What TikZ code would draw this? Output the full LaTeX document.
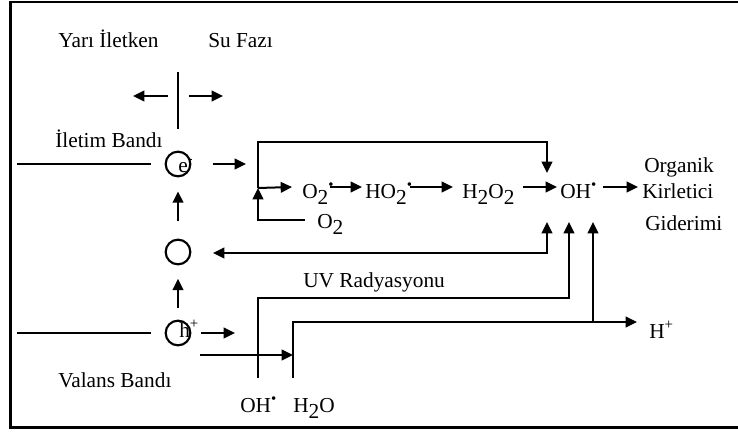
\documentclass[tikz,border=0pt]{standalone}
\usepackage{fontspec}
\setmainfont{Liberation Serif}
\usetikzlibrary{arrows.meta}
\newcommand{\lowsub}[1]{\raisebox{-0.32em}{#1}}
\newcommand{\radot}{\textsuperscript{\textbullet}}

\begin{document}
\begin{tikzpicture}[x=0.75pt, y=-0.75pt,
    txt/.style={font=\fontsize{16}{19}\selectfont, inner sep=0pt, anchor=base west},
    ln/.style={line width=1.5pt},
    arr/.style={ln, -{Triangle[length=8.5pt,width=8pt]}},
    dbl/.style={ln, {Triangle[length=8.5pt,width=8pt]}-{Triangle[length=8.5pt,width=8pt]}},
    band/.style={circle, draw, line width=1.6pt, minimum size=18.5pt, inner sep=0pt},
    frame/.style={line width=2pt}]

\useasboundingbox (0,0) rectangle (738,432);

%% Frame (open on the right)
\draw[frame] (738,2) -- (10.5,2) -- (10.5,427.5) -- (738,427.5);

%% Headings
\node[txt] (yari)   at (58,47)   {Yarı İletken};
\node[txt] (su)     at (208,47)  {Su Fazı};
\node[txt] (iletim) at (55,147)  {İletim Bandı};
\node[txt] (valans) at (58,387)  {Valans Bandı};
\node[txt] (uv)     at (303,287) {UV Radyasyonu};

%% Interface divider
\coordinate (divtop) at (178,72);
\coordinate (divbot) at (178,129);
\draw[ln] (divtop) -- (divbot);
\coordinate (lfts) at (168,96);
\coordinate (lfte) at (133,96);
\coordinate (rgts) at (189,96);
\coordinate (rgte) at (223,96);
\draw[arr] (lfts) -- (lfte);
\draw[arr] (rgts) -- (rgte);

%% Band carriers
\node[band] (elec) at (178,164) {};
\node[band] (hole) at (178,252) {};
\node[band] (hplus) at (178,333) {};
\node[txt] (elbl) at (178,172) {e\textsuperscript{-}};
\node[txt] (hlbl) at (179,337) {h\textsuperscript{+}};

\coordinate (cband) at (17,164);
\coordinate (vband) at (17,333);
\draw[ln, shorten >=10pt] (cband) -- (elec);
\draw[ln, shorten >=10pt] (vband) -- (hplus);

\draw[arr, shorten <=13pt, shorten >=10.5pt] (hole) -- (elec);
\draw[arr, shorten <=9pt, shorten >=10pt] (hplus) -- (hole);

%% Electron to water phase
\coordinate (eout) at (246,164);
\draw[arr, shorten <=16pt] (elec) -- (eout);

%% Reduction chain
\node[txt] (o2a)  at (302,198) {O\lowsub{2}\radot};
\node[txt] (ho2)  at (365,198) {HO\lowsub{2}\radot};
\node[txt] (h2o2) at (462,198) {H\lowsub{2}O\lowsub{2}};
\node[txt] (oh)   at (560,198) {OH\radot};
\node[txt] (org)  at (644,172) {Organik};
\node[txt] (kir)  at (642,198) {Kirletici};
\node[txt] (gid)  at (645,230) {Giderimi};
\node[txt] (o2in) at (317,228) {O\lowsub{2}};

\coordinate (jn0) at (258,188);
\coordinate (jn1) at (258,142);
\coordinate (jn2) at (547,142);
\coordinate (jn3) at (547,173);
\draw[arr] (jn0) -- (jn1) -- (jn2) -- (jn3);

\coordinate (o2s) at (305,220);
\coordinate (o2c) at (258,220);
\draw[arr] (o2s) -- (o2c) -- (jn0);

\coordinate (ch1) at (292,187);
\draw[arr] (jn0) -- (ch1);
\coordinate (ch2s) at (330,187);
\coordinate (ch2e) at (362,187);
\draw[arr] (ch2s) -- (ch2e);
\coordinate (ch3s) at (410,187);
\coordinate (ch3e) at (453,187);
\draw[arr] (ch3s) -- (ch3e);
\coordinate (ch4s) at (523,187);
\coordinate (ch4e) at (557,187);
\draw[arr] (ch4s) -- (ch4e);
\coordinate (ch5s) at (603,187);
\coordinate (ch5e) at (638,187);
\draw[arr] (ch5s) -- (ch5e);

%% Hole return line
\coordinate (hr1) at (547,222);
\coordinate (hr2) at (547,253);
\coordinate (hr3) at (213,253);
\draw[dbl] (hr1) -- (hr2) -- (hr3);

%% Valence band side
\coordinate (hout) at (235,333);
\draw[arr, shorten <=7.5pt] (hplus) -- (hout);
\coordinate (wts) at (200,355);
\coordinate (wte) at (293,355);
\draw[arr] (wts) -- (wte);

\node[txt] (ohb) at (240,412) {OH\radot};
\node[txt] (h2o) at (293,412) {H\lowsub{2}O};
\node[txt] (hp)  at (649,338) {H\textsuperscript{+}};

\coordinate (pa1) at (258,378);
\coordinate (pa2) at (258,298);
\coordinate (pa3) at (569,298);
\coordinate (pa4) at (569,222);
\draw[arr] (pa1) -- (pa2) -- (pa3) -- (pa4);

\coordinate (qa1) at (293,378);
\coordinate (qa2) at (293,322);
\coordinate (qa3) at (637,322);
\coordinate (qa4) at (593,322);
\coordinate (qa5) at (593,222);
\draw[arr] (qa1) -- (qa2) -- (qa3);
\draw[arr] (qa4) -- (qa5);

\end{tikzpicture}
\end{document}
